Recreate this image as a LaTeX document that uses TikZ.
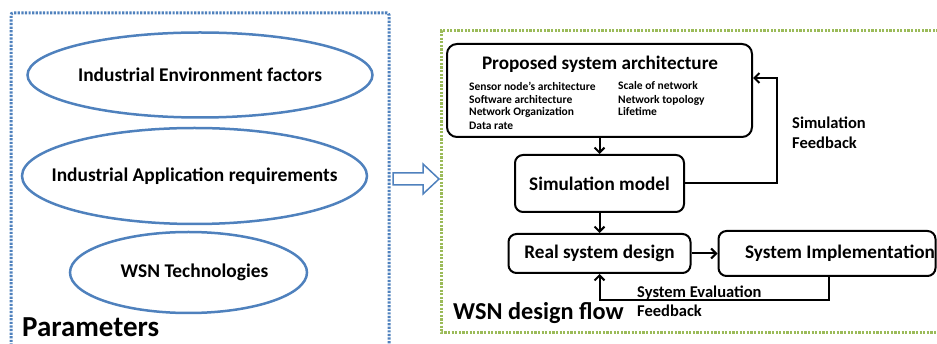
\documentclass[tikz,border=0pt]{standalone}
\usepackage{fontspec}
\setmainfont{Carlito}
\usetikzlibrary{shapes.geometric,arrows.meta}
\definecolor{parblue}{HTML}{4F81BD}
\definecolor{flowgreen}{HTML}{9BBB59}

\begin{document}
\begin{tikzpicture}[x=1pt,y=-1pt,>={Straight Barb[length=5pt,width=10pt]},
    oval/.style={ellipse,draw=parblue,line width=2.5pt,inner sep=0pt},
    ovaltext/.style={font=\fontsize{19.4}{23}\selectfont\bfseries},
    block/.style={draw,line width=2pt,rounded corners=8pt,inner sep=0pt,
      font=\fontsize{19.2}{23}\selectfont\bfseries},
    flow/.style={line width=2pt,->},
    item/.style={anchor=west,inner sep=0pt,font=\fontsize{11.5}{13}\selectfont\bfseries},
    note/.style={anchor=west,align=left,inner sep=0pt},
    dots/.style={line width=3pt,dash pattern=on 2.2pt off 1.4pt}]
    \useasboundingbox (0,0) rectangle (937,344);
    \clip (0,0) rectangle (937,344);

    % parameters (left)
    \draw[dots,parblue,rounded corners=2pt] (11,360) -- (11,13) -- (389,13) -- (389,360);
    \node[oval,minimum width=345pt,minimum height=85pt,
      label={[ovaltext]center:Industrial Environment factors}] (envfactors) at (200,75) {};
    \node[oval,minimum width=345pt,minimum height=96pt,
      label={[ovaltext]center:Industrial Application requirements}] (appreq) at (194.5,176) {};
    \node[oval,minimum width=237pt,minimum height=81pt,
      label={[ovaltext,xshift=6pt]center:WSN Technologies}] (wsntech) at (188.5,272.5) {};
    \node[anchor=base west,inner sep=0pt,font=\fontsize{29}{32}\selectfont\bfseries] (partitle) at (22,337) {Parameters};

    % hollow arrow
    \draw[parblue,line width=1.5pt,fill=white] (393,173) -- (423,173) -- (423,164) -- (439,179)
      -- (423,194) -- (423,185) -- (393,185) -- cycle;

    % design flow (right)
    \draw[dots,flowgreen] (960,31) -- (441,31) -- (441,333) -- (960,333);
    \node[anchor=base west,inner sep=0pt,font=\fontsize{24.3}{28}\selectfont\bfseries] (flowtitle) at (453,320) {WSN design flow};

    \node[block,rounded corners=10pt,minimum width=305pt,minimum height=93pt] (proposed) at (599.5,90.5) {};
    \node[inner sep=0pt,font=\fontsize{19.2}{23}\selectfont\bfseries] (proptitle) at (600,64) {Proposed system architecture};
    \node[item] (itemsensor) at (469,86) {Sensor node's architecture};
    \node[item] (itemsoft) at (469,100) {Software architecture};
    \node[item] (itemorg) at (469,112) {Network Organization};
    \node[item] (itemrate) at (469,126) {Data rate};
    \node[item] (itemscale) at (618,86) {Scale of network};
    \node[item] (itemtopo) at (618,100) {Network topology};
    \node[item] (itemlife) at (618,112) {Lifetime};

    \node[block,minimum width=169pt,minimum height=57pt] (simmodel) at (599.5,183.5) {Simulation model};
    \node[block,minimum width=182pt,minimum height=39pt] (realdesign) at (599.5,253.5) {Real system design};
    \node[block,minimum width=217pt,minimum height=45pt] (implement) at (827,253.5) {\hspace*{26pt}System Implementation};

    \draw[flow] (proposed) -- (simmodel);
    \draw[flow] (simmodel) -- (realdesign);
    \draw[flow] (realdesign) -- (implement);

    % feedback loops
    \coordinate (simtop) at (777,78);
    \draw[flow] (simmodel.east) -| (simtop) -- (simtop -| proposed.east);
    \node[note,font=\fontsize{16.5}{20}\selectfont\bfseries] (simfeedback) at (792,133) {Simulation\\Feedback};

    \coordinate (evalcorner) at (829,300);
    \draw[flow] (evalcorner |- implement.south) -- (evalcorner) -| (realdesign.south);
    \node[note,font=\fontsize{16.5}{19}\selectfont\bfseries] (evalfeedback) at (637,301.5) {System Evaluation\\Feedback};
\end{tikzpicture}
\end{document}
